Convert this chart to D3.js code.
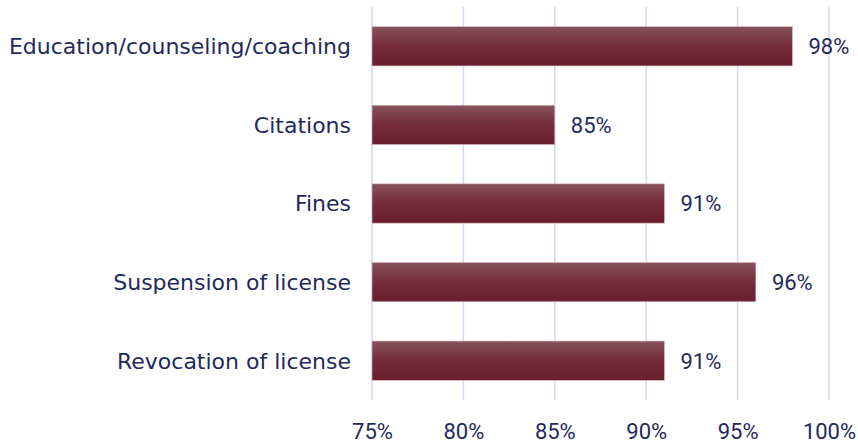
<!DOCTYPE html>
<html><head><meta charset="utf-8">
<script src="https://cdn.jsdelivr.net/npm/d3@7"></script>
<style>html,body{margin:0;padding:0;background:#fff;}</style>
</head><body>
<svg id="c" width="858" height="443"></svg>
<script>
const categories = ["Education/counseling/coaching","Citations","Fines","Suspension of license","Revocation of license"];
const values = [98, 85, 91, 96, 91];
const tickValues = [75, 80, 85, 90, 95, 100];

const svg = d3.select("#c");
const labelFont = "'DejaVu Sans', sans-serif";
const numFont = "Roboto, 'DejaVu Sans', sans-serif";
const textColor = "#1f2a5c";
const x = d3.scaleLinear().domain([75, 100]).range([372, 829]);
const y = d3.scaleBand().domain(categories).range([7, 400]).paddingInner(0.5).paddingOuter(0.25);

const defs = svg.append("defs");
const g = defs.append("linearGradient").attr("id","bg").attr("x1",0).attr("y1",0).attr("x2",0).attr("y2",1);
g.append("stop").attr("offset","0%").attr("stop-color","#87535c");
g.append("stop").attr("offset","50%").attr("stop-color","#742b3b");
g.append("stop").attr("offset","100%").attr("stop-color","#6a1f31");

// gridlines
svg.append("g").selectAll("line").data(tickValues).join("line")
  .attr("x1", d => x(d)).attr("x2", d => x(d))
  .attr("y1", 7).attr("y2", 400)
  .attr("stroke", "#d6d9ee").attr("stroke-width", 1.5);

// bars
svg.append("g").selectAll("rect").data(categories).join("rect")
  .attr("x", x(75)).attr("y", d => y(d))
  .attr("width", (d,i) => x(values[i]) - x(75))
  .attr("height", y.bandwidth())
  .attr("fill", "url(#bg)")
  .attr("stroke", "#d9b9bf").attr("stroke-width", 0.6);

// value labels
svg.append("g").selectAll("text").data(categories).join("text")
  .attr("x", (d,i) => x(values[i]) + 16)
  .attr("y", d => y(d) + y.bandwidth()/2)
  .attr("dy", "0.36em")
  .attr("font-family", numFont).attr("font-size", 22).attr("fill", textColor)
  .text((d,i) => values[i] + "%");

// category axis
const ya = d3.axisLeft(y).tickSize(0).tickPadding(21);
svg.append("g").attr("transform", `translate(${x(75)},0)`).call(ya)
  .call(s => s.select(".domain").remove())
  .selectAll("text").attr("dy", "0.36em").attr("font-family", labelFont).attr("font-size", 22).attr("fill", textColor);

// value axis
const xa = d3.axisBottom(x).tickValues(tickValues).tickSize(0).tickPadding(0).tickFormat(d => d + "%");
svg.append("g").attr("transform", "translate(0,423)").call(xa)
  .call(s => s.select(".domain").remove())
  .selectAll("text").attr("font-family", numFont).attr("font-size", 22).attr("fill", textColor);
</script>
</body></html>
